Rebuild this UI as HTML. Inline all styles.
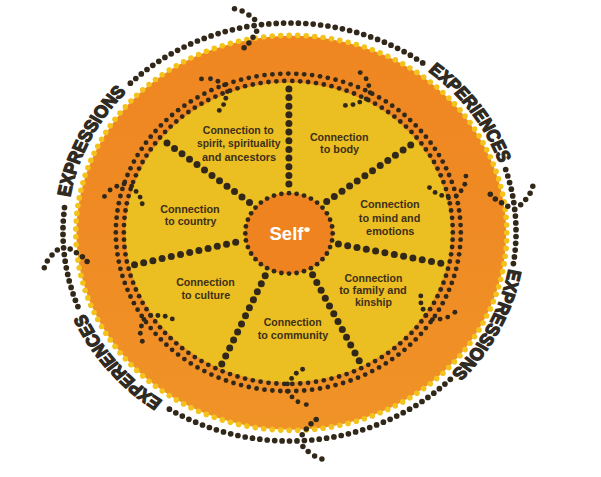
<!DOCTYPE html>
<html><head><meta charset="utf-8"><style>
html,body{margin:0;padding:0;background:#fff;width:601px;height:477px;overflow:hidden}
svg{display:block}
</style></head><body>
<svg width="601" height="477" viewBox="0 0 601 477">
<rect width="601" height="477" fill="#fff"/>
<defs><linearGradient id="og" x1="0" y1="0" x2="0" y2="1"><stop offset="0" stop-color="#ef8621"/><stop offset="0.5" stop-color="#ef8b24"/><stop offset="1" stop-color="#f09327"/></linearGradient></defs>
<ellipse cx="291.3" cy="232.85" rx="214.9" ry="197.0" fill="url(#og)"/>
<circle cx="506.8" cy="232.8" r="2.8" fill="#f3c31c"/>
<circle cx="506.6" cy="240.7" r="2.8" fill="#f3c31c"/>
<circle cx="506.1" cy="248.4" r="2.8" fill="#f3c31c"/>
<circle cx="505.3" cy="256.2" r="2.8" fill="#f3c31c"/>
<circle cx="504.1" cy="263.9" r="2.8" fill="#f3c31c"/>
<circle cx="502.6" cy="271.6" r="2.8" fill="#f3c31c"/>
<circle cx="500.7" cy="279.2" r="2.8" fill="#f3c31c"/>
<circle cx="498.6" cy="286.8" r="2.8" fill="#f3c31c"/>
<circle cx="496.1" cy="294.3" r="2.8" fill="#f3c31c"/>
<circle cx="493.3" cy="301.6" r="2.8" fill="#f3c31c"/>
<circle cx="490.2" cy="308.9" r="2.8" fill="#f3c31c"/>
<circle cx="486.7" cy="316.0" r="2.8" fill="#f3c31c"/>
<circle cx="483.0" cy="323.0" r="2.8" fill="#f3c31c"/>
<circle cx="479.0" cy="329.9" r="2.8" fill="#f3c31c"/>
<circle cx="474.6" cy="336.6" r="2.8" fill="#f3c31c"/>
<circle cx="470.0" cy="343.2" r="2.8" fill="#f3c31c"/>
<circle cx="465.1" cy="349.6" r="2.8" fill="#f3c31c"/>
<circle cx="460.0" cy="355.8" r="2.8" fill="#f3c31c"/>
<circle cx="454.5" cy="361.8" r="2.8" fill="#f3c31c"/>
<circle cx="448.8" cy="367.6" r="2.8" fill="#f3c31c"/>
<circle cx="442.9" cy="373.2" r="2.8" fill="#f3c31c"/>
<circle cx="436.7" cy="378.6" r="2.8" fill="#f3c31c"/>
<circle cx="430.3" cy="383.7" r="2.8" fill="#f3c31c"/>
<circle cx="423.7" cy="388.6" r="2.8" fill="#f3c31c"/>
<circle cx="416.9" cy="393.3" r="2.8" fill="#f3c31c"/>
<circle cx="409.9" cy="397.7" r="2.8" fill="#f3c31c"/>
<circle cx="402.7" cy="401.9" r="2.8" fill="#f3c31c"/>
<circle cx="395.3" cy="405.8" r="2.8" fill="#f3c31c"/>
<circle cx="387.8" cy="409.4" r="2.8" fill="#f3c31c"/>
<circle cx="380.1" cy="412.8" r="2.8" fill="#f3c31c"/>
<circle cx="372.3" cy="415.9" r="2.8" fill="#f3c31c"/>
<circle cx="364.3" cy="418.7" r="2.8" fill="#f3c31c"/>
<circle cx="356.3" cy="421.2" r="2.8" fill="#f3c31c"/>
<circle cx="348.1" cy="423.4" r="2.8" fill="#f3c31c"/>
<circle cx="339.8" cy="425.3" r="2.8" fill="#f3c31c"/>
<circle cx="331.5" cy="426.9" r="2.8" fill="#f3c31c"/>
<circle cx="323.1" cy="428.2" r="2.8" fill="#f3c31c"/>
<circle cx="314.7" cy="429.2" r="2.8" fill="#f3c31c"/>
<circle cx="306.2" cy="429.9" r="2.8" fill="#f3c31c"/>
<circle cx="297.7" cy="430.3" r="2.8" fill="#f3c31c"/>
<circle cx="289.2" cy="430.3" r="2.8" fill="#f3c31c"/>
<circle cx="280.7" cy="430.1" r="2.8" fill="#f3c31c"/>
<circle cx="272.2" cy="429.6" r="2.8" fill="#f3c31c"/>
<circle cx="263.7" cy="428.7" r="2.8" fill="#f3c31c"/>
<circle cx="255.3" cy="427.6" r="2.8" fill="#f3c31c"/>
<circle cx="246.9" cy="426.1" r="2.8" fill="#f3c31c"/>
<circle cx="238.6" cy="424.4" r="2.8" fill="#f3c31c"/>
<circle cx="230.4" cy="422.3" r="2.8" fill="#f3c31c"/>
<circle cx="222.3" cy="419.9" r="2.8" fill="#f3c31c"/>
<circle cx="214.3" cy="417.3" r="2.8" fill="#f3c31c"/>
<circle cx="206.4" cy="414.4" r="2.8" fill="#f3c31c"/>
<circle cx="198.6" cy="411.2" r="2.8" fill="#f3c31c"/>
<circle cx="191.0" cy="407.7" r="2.8" fill="#f3c31c"/>
<circle cx="183.6" cy="403.9" r="2.8" fill="#f3c31c"/>
<circle cx="176.3" cy="399.9" r="2.8" fill="#f3c31c"/>
<circle cx="169.2" cy="395.6" r="2.8" fill="#f3c31c"/>
<circle cx="162.2" cy="391.0" r="2.8" fill="#f3c31c"/>
<circle cx="155.5" cy="386.2" r="2.8" fill="#f3c31c"/>
<circle cx="149.0" cy="381.2" r="2.8" fill="#f3c31c"/>
<circle cx="142.7" cy="375.9" r="2.8" fill="#f3c31c"/>
<circle cx="136.7" cy="370.4" r="2.8" fill="#f3c31c"/>
<circle cx="130.9" cy="364.7" r="2.8" fill="#f3c31c"/>
<circle cx="125.3" cy="358.8" r="2.8" fill="#f3c31c"/>
<circle cx="120.0" cy="352.7" r="2.8" fill="#f3c31c"/>
<circle cx="115.0" cy="346.4" r="2.8" fill="#f3c31c"/>
<circle cx="110.2" cy="339.9" r="2.8" fill="#f3c31c"/>
<circle cx="105.8" cy="333.3" r="2.8" fill="#f3c31c"/>
<circle cx="101.6" cy="326.5" r="2.8" fill="#f3c31c"/>
<circle cx="97.7" cy="319.5" r="2.8" fill="#f3c31c"/>
<circle cx="94.1" cy="312.5" r="2.8" fill="#f3c31c"/>
<circle cx="90.8" cy="305.3" r="2.8" fill="#f3c31c"/>
<circle cx="87.9" cy="297.9" r="2.8" fill="#f3c31c"/>
<circle cx="85.2" cy="290.5" r="2.8" fill="#f3c31c"/>
<circle cx="82.9" cy="283.0" r="2.8" fill="#f3c31c"/>
<circle cx="80.9" cy="275.4" r="2.8" fill="#f3c31c"/>
<circle cx="79.2" cy="267.8" r="2.8" fill="#f3c31c"/>
<circle cx="77.9" cy="260.1" r="2.8" fill="#f3c31c"/>
<circle cx="76.9" cy="252.3" r="2.8" fill="#f3c31c"/>
<circle cx="76.2" cy="244.6" r="2.8" fill="#f3c31c"/>
<circle cx="75.9" cy="236.8" r="2.8" fill="#f3c31c"/>
<circle cx="75.9" cy="228.9" r="2.8" fill="#f3c31c"/>
<circle cx="76.2" cy="221.1" r="2.8" fill="#f3c31c"/>
<circle cx="76.9" cy="213.4" r="2.8" fill="#f3c31c"/>
<circle cx="77.9" cy="205.6" r="2.8" fill="#f3c31c"/>
<circle cx="79.2" cy="197.9" r="2.8" fill="#f3c31c"/>
<circle cx="80.9" cy="190.3" r="2.8" fill="#f3c31c"/>
<circle cx="82.9" cy="182.7" r="2.8" fill="#f3c31c"/>
<circle cx="85.2" cy="175.2" r="2.8" fill="#f3c31c"/>
<circle cx="87.9" cy="167.8" r="2.8" fill="#f3c31c"/>
<circle cx="90.8" cy="160.4" r="2.8" fill="#f3c31c"/>
<circle cx="94.1" cy="153.2" r="2.8" fill="#f3c31c"/>
<circle cx="97.7" cy="146.2" r="2.8" fill="#f3c31c"/>
<circle cx="101.6" cy="139.2" r="2.8" fill="#f3c31c"/>
<circle cx="105.8" cy="132.4" r="2.8" fill="#f3c31c"/>
<circle cx="110.2" cy="125.8" r="2.8" fill="#f3c31c"/>
<circle cx="115.0" cy="119.3" r="2.8" fill="#f3c31c"/>
<circle cx="120.0" cy="113.0" r="2.8" fill="#f3c31c"/>
<circle cx="125.3" cy="106.9" r="2.8" fill="#f3c31c"/>
<circle cx="130.9" cy="101.0" r="2.8" fill="#f3c31c"/>
<circle cx="136.7" cy="95.3" r="2.8" fill="#f3c31c"/>
<circle cx="142.7" cy="89.8" r="2.8" fill="#f3c31c"/>
<circle cx="149.0" cy="84.5" r="2.8" fill="#f3c31c"/>
<circle cx="155.5" cy="79.5" r="2.8" fill="#f3c31c"/>
<circle cx="162.2" cy="74.7" r="2.8" fill="#f3c31c"/>
<circle cx="169.2" cy="70.1" r="2.8" fill="#f3c31c"/>
<circle cx="176.3" cy="65.8" r="2.8" fill="#f3c31c"/>
<circle cx="183.6" cy="61.8" r="2.8" fill="#f3c31c"/>
<circle cx="191.0" cy="58.0" r="2.8" fill="#f3c31c"/>
<circle cx="198.6" cy="54.5" r="2.8" fill="#f3c31c"/>
<circle cx="206.4" cy="51.3" r="2.8" fill="#f3c31c"/>
<circle cx="214.3" cy="48.4" r="2.8" fill="#f3c31c"/>
<circle cx="222.3" cy="45.8" r="2.8" fill="#f3c31c"/>
<circle cx="230.4" cy="43.4" r="2.8" fill="#f3c31c"/>
<circle cx="238.6" cy="41.3" r="2.8" fill="#f3c31c"/>
<circle cx="246.9" cy="39.6" r="2.8" fill="#f3c31c"/>
<circle cx="255.3" cy="38.1" r="2.8" fill="#f3c31c"/>
<circle cx="263.7" cy="37.0" r="2.8" fill="#f3c31c"/>
<circle cx="272.2" cy="36.1" r="2.8" fill="#f3c31c"/>
<circle cx="280.7" cy="35.6" r="2.8" fill="#f3c31c"/>
<circle cx="289.2" cy="35.4" r="2.8" fill="#f3c31c"/>
<circle cx="297.7" cy="35.4" r="2.8" fill="#f3c31c"/>
<circle cx="306.2" cy="35.8" r="2.8" fill="#f3c31c"/>
<circle cx="314.7" cy="36.5" r="2.8" fill="#f3c31c"/>
<circle cx="323.1" cy="37.5" r="2.8" fill="#f3c31c"/>
<circle cx="331.5" cy="38.8" r="2.8" fill="#f3c31c"/>
<circle cx="339.8" cy="40.4" r="2.8" fill="#f3c31c"/>
<circle cx="348.1" cy="42.3" r="2.8" fill="#f3c31c"/>
<circle cx="356.3" cy="44.5" r="2.8" fill="#f3c31c"/>
<circle cx="364.3" cy="47.0" r="2.8" fill="#f3c31c"/>
<circle cx="372.3" cy="49.8" r="2.8" fill="#f3c31c"/>
<circle cx="380.1" cy="52.9" r="2.8" fill="#f3c31c"/>
<circle cx="387.8" cy="56.3" r="2.8" fill="#f3c31c"/>
<circle cx="395.3" cy="59.9" r="2.8" fill="#f3c31c"/>
<circle cx="402.7" cy="63.8" r="2.8" fill="#f3c31c"/>
<circle cx="409.9" cy="68.0" r="2.8" fill="#f3c31c"/>
<circle cx="416.9" cy="72.4" r="2.8" fill="#f3c31c"/>
<circle cx="423.7" cy="77.1" r="2.8" fill="#f3c31c"/>
<circle cx="430.3" cy="82.0" r="2.8" fill="#f3c31c"/>
<circle cx="436.7" cy="87.1" r="2.8" fill="#f3c31c"/>
<circle cx="442.9" cy="92.5" r="2.8" fill="#f3c31c"/>
<circle cx="448.8" cy="98.1" r="2.8" fill="#f3c31c"/>
<circle cx="454.5" cy="103.9" r="2.8" fill="#f3c31c"/>
<circle cx="460.0" cy="109.9" r="2.8" fill="#f3c31c"/>
<circle cx="465.1" cy="116.1" r="2.8" fill="#f3c31c"/>
<circle cx="470.0" cy="122.5" r="2.8" fill="#f3c31c"/>
<circle cx="474.6" cy="129.1" r="2.8" fill="#f3c31c"/>
<circle cx="479.0" cy="135.8" r="2.8" fill="#f3c31c"/>
<circle cx="483.0" cy="142.7" r="2.8" fill="#f3c31c"/>
<circle cx="486.7" cy="149.7" r="2.8" fill="#f3c31c"/>
<circle cx="490.2" cy="156.8" r="2.8" fill="#f3c31c"/>
<circle cx="493.3" cy="164.1" r="2.8" fill="#f3c31c"/>
<circle cx="496.1" cy="171.4" r="2.8" fill="#f3c31c"/>
<circle cx="498.6" cy="178.9" r="2.8" fill="#f3c31c"/>
<circle cx="500.7" cy="186.5" r="2.8" fill="#f3c31c"/>
<circle cx="502.6" cy="194.1" r="2.8" fill="#f3c31c"/>
<circle cx="504.1" cy="201.8" r="2.8" fill="#f3c31c"/>
<circle cx="505.3" cy="209.5" r="2.8" fill="#f3c31c"/>
<circle cx="506.1" cy="217.3" r="2.8" fill="#f3c31c"/>
<circle cx="506.6" cy="225.0" r="2.8" fill="#f3c31c"/>
<ellipse cx="288.3" cy="232.4" rx="162.7" ry="149.8" fill="#ebbe22"/>
<circle cx="460.8" cy="232.4" r="2.4" fill="#31281a"/>
<circle cx="460.6" cy="239.7" r="2.4" fill="#31281a"/>
<circle cx="460.0" cy="247.1" r="2.4" fill="#31281a"/>
<circle cx="459.1" cy="254.3" r="2.4" fill="#31281a"/>
<circle cx="457.8" cy="261.6" r="2.4" fill="#31281a"/>
<circle cx="456.2" cy="268.8" r="2.4" fill="#31281a"/>
<circle cx="454.2" cy="275.9" r="2.4" fill="#31281a"/>
<circle cx="451.8" cy="282.9" r="2.4" fill="#31281a"/>
<circle cx="449.1" cy="289.8" r="2.4" fill="#31281a"/>
<circle cx="446.1" cy="296.5" r="2.4" fill="#31281a"/>
<circle cx="442.7" cy="303.2" r="2.4" fill="#31281a"/>
<circle cx="439.0" cy="309.7" r="2.4" fill="#31281a"/>
<circle cx="434.9" cy="316.0" r="2.4" fill="#31281a"/>
<circle cx="430.6" cy="322.1" r="2.4" fill="#31281a"/>
<circle cx="425.9" cy="328.1" r="2.4" fill="#31281a"/>
<circle cx="421.0" cy="333.8" r="2.4" fill="#31281a"/>
<circle cx="415.7" cy="339.4" r="2.4" fill="#31281a"/>
<circle cx="410.2" cy="344.7" r="2.4" fill="#31281a"/>
<circle cx="404.5" cy="349.8" r="2.4" fill="#31281a"/>
<circle cx="398.5" cy="354.6" r="2.4" fill="#31281a"/>
<circle cx="392.2" cy="359.1" r="2.4" fill="#31281a"/>
<circle cx="385.8" cy="363.4" r="2.4" fill="#31281a"/>
<circle cx="379.1" cy="367.4" r="2.4" fill="#31281a"/>
<circle cx="372.2" cy="371.1" r="2.4" fill="#31281a"/>
<circle cx="365.2" cy="374.6" r="2.4" fill="#31281a"/>
<circle cx="358.0" cy="377.7" r="2.4" fill="#31281a"/>
<circle cx="350.6" cy="380.5" r="2.4" fill="#31281a"/>
<circle cx="343.1" cy="383.0" r="2.4" fill="#31281a"/>
<circle cx="335.5" cy="385.1" r="2.4" fill="#31281a"/>
<circle cx="327.8" cy="387.0" r="2.4" fill="#31281a"/>
<circle cx="320.0" cy="388.5" r="2.4" fill="#31281a"/>
<circle cx="312.1" cy="389.7" r="2.4" fill="#31281a"/>
<circle cx="304.2" cy="390.5" r="2.4" fill="#31281a"/>
<circle cx="296.3" cy="391.0" r="2.4" fill="#31281a"/>
<circle cx="288.3" cy="391.2" r="2.4" fill="#31281a"/>
<circle cx="280.3" cy="391.0" r="2.4" fill="#31281a"/>
<circle cx="272.4" cy="390.5" r="2.4" fill="#31281a"/>
<circle cx="264.5" cy="389.7" r="2.4" fill="#31281a"/>
<circle cx="256.6" cy="388.5" r="2.4" fill="#31281a"/>
<circle cx="248.8" cy="387.0" r="2.4" fill="#31281a"/>
<circle cx="241.1" cy="385.1" r="2.4" fill="#31281a"/>
<circle cx="233.5" cy="383.0" r="2.4" fill="#31281a"/>
<circle cx="226.0" cy="380.5" r="2.4" fill="#31281a"/>
<circle cx="218.6" cy="377.7" r="2.4" fill="#31281a"/>
<circle cx="211.4" cy="374.6" r="2.4" fill="#31281a"/>
<circle cx="204.4" cy="371.1" r="2.4" fill="#31281a"/>
<circle cx="197.5" cy="367.4" r="2.4" fill="#31281a"/>
<circle cx="190.8" cy="363.4" r="2.4" fill="#31281a"/>
<circle cx="184.4" cy="359.1" r="2.4" fill="#31281a"/>
<circle cx="178.1" cy="354.6" r="2.4" fill="#31281a"/>
<circle cx="172.1" cy="349.8" r="2.4" fill="#31281a"/>
<circle cx="166.4" cy="344.7" r="2.4" fill="#31281a"/>
<circle cx="160.9" cy="339.4" r="2.4" fill="#31281a"/>
<circle cx="155.6" cy="333.8" r="2.4" fill="#31281a"/>
<circle cx="150.7" cy="328.1" r="2.4" fill="#31281a"/>
<circle cx="146.0" cy="322.1" r="2.4" fill="#31281a"/>
<circle cx="141.7" cy="316.0" r="2.4" fill="#31281a"/>
<circle cx="137.6" cy="309.7" r="2.4" fill="#31281a"/>
<circle cx="133.9" cy="303.2" r="2.4" fill="#31281a"/>
<circle cx="130.5" cy="296.5" r="2.4" fill="#31281a"/>
<circle cx="127.5" cy="289.8" r="2.4" fill="#31281a"/>
<circle cx="124.8" cy="282.9" r="2.4" fill="#31281a"/>
<circle cx="122.4" cy="275.9" r="2.4" fill="#31281a"/>
<circle cx="120.4" cy="268.8" r="2.4" fill="#31281a"/>
<circle cx="118.8" cy="261.6" r="2.4" fill="#31281a"/>
<circle cx="117.5" cy="254.3" r="2.4" fill="#31281a"/>
<circle cx="116.6" cy="247.1" r="2.4" fill="#31281a"/>
<circle cx="116.0" cy="239.7" r="2.4" fill="#31281a"/>
<circle cx="115.8" cy="232.4" r="2.4" fill="#31281a"/>
<circle cx="116.0" cy="225.1" r="2.4" fill="#31281a"/>
<circle cx="116.6" cy="217.7" r="2.4" fill="#31281a"/>
<circle cx="117.5" cy="210.5" r="2.4" fill="#31281a"/>
<circle cx="118.8" cy="203.2" r="2.4" fill="#31281a"/>
<circle cx="120.4" cy="196.0" r="2.4" fill="#31281a"/>
<circle cx="122.4" cy="188.9" r="2.4" fill="#31281a"/>
<circle cx="124.8" cy="181.9" r="2.4" fill="#31281a"/>
<circle cx="127.5" cy="175.0" r="2.4" fill="#31281a"/>
<circle cx="130.5" cy="168.3" r="2.4" fill="#31281a"/>
<circle cx="133.9" cy="161.6" r="2.4" fill="#31281a"/>
<circle cx="137.6" cy="155.1" r="2.4" fill="#31281a"/>
<circle cx="141.7" cy="148.8" r="2.4" fill="#31281a"/>
<circle cx="146.0" cy="142.7" r="2.4" fill="#31281a"/>
<circle cx="150.7" cy="136.7" r="2.4" fill="#31281a"/>
<circle cx="155.6" cy="131.0" r="2.4" fill="#31281a"/>
<circle cx="160.9" cy="125.4" r="2.4" fill="#31281a"/>
<circle cx="166.4" cy="120.1" r="2.4" fill="#31281a"/>
<circle cx="172.1" cy="115.0" r="2.4" fill="#31281a"/>
<circle cx="178.1" cy="110.2" r="2.4" fill="#31281a"/>
<circle cx="184.4" cy="105.7" r="2.4" fill="#31281a"/>
<circle cx="190.8" cy="101.4" r="2.4" fill="#31281a"/>
<circle cx="197.5" cy="97.4" r="2.4" fill="#31281a"/>
<circle cx="204.4" cy="93.7" r="2.4" fill="#31281a"/>
<circle cx="211.4" cy="90.2" r="2.4" fill="#31281a"/>
<circle cx="218.6" cy="87.1" r="2.4" fill="#31281a"/>
<circle cx="226.0" cy="84.3" r="2.4" fill="#31281a"/>
<circle cx="233.5" cy="81.8" r="2.4" fill="#31281a"/>
<circle cx="241.1" cy="79.7" r="2.4" fill="#31281a"/>
<circle cx="248.8" cy="77.8" r="2.4" fill="#31281a"/>
<circle cx="256.6" cy="76.3" r="2.4" fill="#31281a"/>
<circle cx="264.5" cy="75.1" r="2.4" fill="#31281a"/>
<circle cx="272.4" cy="74.3" r="2.4" fill="#31281a"/>
<circle cx="280.3" cy="73.8" r="2.4" fill="#31281a"/>
<circle cx="288.3" cy="73.6" r="2.4" fill="#31281a"/>
<circle cx="296.3" cy="73.8" r="2.4" fill="#31281a"/>
<circle cx="304.2" cy="74.3" r="2.4" fill="#31281a"/>
<circle cx="312.1" cy="75.1" r="2.4" fill="#31281a"/>
<circle cx="320.0" cy="76.3" r="2.4" fill="#31281a"/>
<circle cx="327.8" cy="77.8" r="2.4" fill="#31281a"/>
<circle cx="335.5" cy="79.7" r="2.4" fill="#31281a"/>
<circle cx="343.1" cy="81.8" r="2.4" fill="#31281a"/>
<circle cx="350.6" cy="84.3" r="2.4" fill="#31281a"/>
<circle cx="358.0" cy="87.1" r="2.4" fill="#31281a"/>
<circle cx="365.2" cy="90.2" r="2.4" fill="#31281a"/>
<circle cx="372.2" cy="93.7" r="2.4" fill="#31281a"/>
<circle cx="379.1" cy="97.4" r="2.4" fill="#31281a"/>
<circle cx="385.8" cy="101.4" r="2.4" fill="#31281a"/>
<circle cx="392.2" cy="105.7" r="2.4" fill="#31281a"/>
<circle cx="398.5" cy="110.2" r="2.4" fill="#31281a"/>
<circle cx="404.5" cy="115.0" r="2.4" fill="#31281a"/>
<circle cx="410.2" cy="120.1" r="2.4" fill="#31281a"/>
<circle cx="415.7" cy="125.4" r="2.4" fill="#31281a"/>
<circle cx="421.0" cy="131.0" r="2.4" fill="#31281a"/>
<circle cx="425.9" cy="136.7" r="2.4" fill="#31281a"/>
<circle cx="430.6" cy="142.7" r="2.4" fill="#31281a"/>
<circle cx="434.9" cy="148.8" r="2.4" fill="#31281a"/>
<circle cx="439.0" cy="155.1" r="2.4" fill="#31281a"/>
<circle cx="442.7" cy="161.6" r="2.4" fill="#31281a"/>
<circle cx="446.1" cy="168.3" r="2.4" fill="#31281a"/>
<circle cx="449.1" cy="175.0" r="2.4" fill="#31281a"/>
<circle cx="451.8" cy="181.9" r="2.4" fill="#31281a"/>
<circle cx="454.2" cy="188.9" r="2.4" fill="#31281a"/>
<circle cx="456.2" cy="196.0" r="2.4" fill="#31281a"/>
<circle cx="457.8" cy="203.2" r="2.4" fill="#31281a"/>
<circle cx="459.1" cy="210.5" r="2.4" fill="#31281a"/>
<circle cx="460.0" cy="217.7" r="2.4" fill="#31281a"/>
<circle cx="460.6" cy="225.1" r="2.4" fill="#31281a"/>
<circle cx="452.8" cy="232.4" r="2.4" fill="#31281a"/>
<circle cx="452.6" cy="239.7" r="2.4" fill="#31281a"/>
<circle cx="452.1" cy="247.0" r="2.4" fill="#31281a"/>
<circle cx="451.1" cy="254.3" r="2.4" fill="#31281a"/>
<circle cx="449.8" cy="261.5" r="2.4" fill="#31281a"/>
<circle cx="448.0" cy="268.7" r="2.4" fill="#31281a"/>
<circle cx="446.0" cy="275.7" r="2.4" fill="#31281a"/>
<circle cx="443.5" cy="282.7" r="2.4" fill="#31281a"/>
<circle cx="440.7" cy="289.5" r="2.4" fill="#31281a"/>
<circle cx="437.5" cy="296.2" r="2.4" fill="#31281a"/>
<circle cx="434.0" cy="302.8" r="2.4" fill="#31281a"/>
<circle cx="430.1" cy="309.2" r="2.4" fill="#31281a"/>
<circle cx="425.9" cy="315.4" r="2.4" fill="#31281a"/>
<circle cx="421.4" cy="321.4" r="2.4" fill="#31281a"/>
<circle cx="416.6" cy="327.3" r="2.4" fill="#31281a"/>
<circle cx="411.5" cy="332.9" r="2.4" fill="#31281a"/>
<circle cx="406.0" cy="338.2" r="2.4" fill="#31281a"/>
<circle cx="400.3" cy="343.3" r="2.4" fill="#31281a"/>
<circle cx="394.4" cy="348.2" r="2.4" fill="#31281a"/>
<circle cx="388.2" cy="352.8" r="2.4" fill="#31281a"/>
<circle cx="381.8" cy="357.1" r="2.4" fill="#31281a"/>
<circle cx="375.1" cy="361.1" r="2.4" fill="#31281a"/>
<circle cx="368.3" cy="364.8" r="2.4" fill="#31281a"/>
<circle cx="361.2" cy="368.2" r="2.4" fill="#31281a"/>
<circle cx="354.0" cy="371.3" r="2.4" fill="#31281a"/>
<circle cx="346.6" cy="374.1" r="2.4" fill="#31281a"/>
<circle cx="339.1" cy="376.5" r="2.4" fill="#31281a"/>
<circle cx="331.5" cy="378.6" r="2.4" fill="#31281a"/>
<circle cx="323.8" cy="380.3" r="2.4" fill="#31281a"/>
<circle cx="316.0" cy="381.7" r="2.4" fill="#31281a"/>
<circle cx="308.1" cy="382.8" r="2.4" fill="#31281a"/>
<circle cx="300.2" cy="383.5" r="2.4" fill="#31281a"/>
<circle cx="292.3" cy="383.9" r="2.4" fill="#31281a"/>
<circle cx="284.3" cy="383.9" r="2.4" fill="#31281a"/>
<circle cx="276.4" cy="383.5" r="2.4" fill="#31281a"/>
<circle cx="268.5" cy="382.8" r="2.4" fill="#31281a"/>
<circle cx="260.6" cy="381.7" r="2.4" fill="#31281a"/>
<circle cx="252.8" cy="380.3" r="2.4" fill="#31281a"/>
<circle cx="245.1" cy="378.6" r="2.4" fill="#31281a"/>
<circle cx="237.5" cy="376.5" r="2.4" fill="#31281a"/>
<circle cx="230.0" cy="374.1" r="2.4" fill="#31281a"/>
<circle cx="222.6" cy="371.3" r="2.4" fill="#31281a"/>
<circle cx="215.4" cy="368.2" r="2.4" fill="#31281a"/>
<circle cx="208.3" cy="364.8" r="2.4" fill="#31281a"/>
<circle cx="201.5" cy="361.1" r="2.4" fill="#31281a"/>
<circle cx="194.8" cy="357.1" r="2.4" fill="#31281a"/>
<circle cx="188.4" cy="352.8" r="2.4" fill="#31281a"/>
<circle cx="182.2" cy="348.2" r="2.4" fill="#31281a"/>
<circle cx="176.3" cy="343.3" r="2.4" fill="#31281a"/>
<circle cx="170.6" cy="338.2" r="2.4" fill="#31281a"/>
<circle cx="165.1" cy="332.9" r="2.4" fill="#31281a"/>
<circle cx="160.0" cy="327.3" r="2.4" fill="#31281a"/>
<circle cx="155.2" cy="321.4" r="2.4" fill="#31281a"/>
<circle cx="150.7" cy="315.4" r="2.4" fill="#31281a"/>
<circle cx="146.5" cy="309.2" r="2.4" fill="#31281a"/>
<circle cx="142.6" cy="302.8" r="2.4" fill="#31281a"/>
<circle cx="139.1" cy="296.2" r="2.4" fill="#31281a"/>
<circle cx="135.9" cy="289.5" r="2.4" fill="#31281a"/>
<circle cx="133.1" cy="282.7" r="2.4" fill="#31281a"/>
<circle cx="130.6" cy="275.7" r="2.4" fill="#31281a"/>
<circle cx="128.6" cy="268.7" r="2.4" fill="#31281a"/>
<circle cx="126.8" cy="261.5" r="2.4" fill="#31281a"/>
<circle cx="125.5" cy="254.3" r="2.4" fill="#31281a"/>
<circle cx="124.5" cy="247.0" r="2.4" fill="#31281a"/>
<circle cx="124.0" cy="239.7" r="2.4" fill="#31281a"/>
<circle cx="123.8" cy="232.4" r="2.4" fill="#31281a"/>
<circle cx="124.0" cy="225.1" r="2.4" fill="#31281a"/>
<circle cx="124.5" cy="217.8" r="2.4" fill="#31281a"/>
<circle cx="125.5" cy="210.5" r="2.4" fill="#31281a"/>
<circle cx="126.8" cy="203.3" r="2.4" fill="#31281a"/>
<circle cx="128.6" cy="196.1" r="2.4" fill="#31281a"/>
<circle cx="130.6" cy="189.1" r="2.4" fill="#31281a"/>
<circle cx="133.1" cy="182.1" r="2.4" fill="#31281a"/>
<circle cx="135.9" cy="175.3" r="2.4" fill="#31281a"/>
<circle cx="139.1" cy="168.6" r="2.4" fill="#31281a"/>
<circle cx="142.6" cy="162.0" r="2.4" fill="#31281a"/>
<circle cx="146.5" cy="155.6" r="2.4" fill="#31281a"/>
<circle cx="150.7" cy="149.4" r="2.4" fill="#31281a"/>
<circle cx="155.2" cy="143.4" r="2.4" fill="#31281a"/>
<circle cx="160.0" cy="137.5" r="2.4" fill="#31281a"/>
<circle cx="165.1" cy="131.9" r="2.4" fill="#31281a"/>
<circle cx="170.6" cy="126.6" r="2.4" fill="#31281a"/>
<circle cx="176.3" cy="121.5" r="2.4" fill="#31281a"/>
<circle cx="182.2" cy="116.6" r="2.4" fill="#31281a"/>
<circle cx="188.4" cy="112.0" r="2.4" fill="#31281a"/>
<circle cx="194.8" cy="107.7" r="2.4" fill="#31281a"/>
<circle cx="201.5" cy="103.7" r="2.4" fill="#31281a"/>
<circle cx="208.3" cy="100.0" r="2.4" fill="#31281a"/>
<circle cx="215.4" cy="96.6" r="2.4" fill="#31281a"/>
<circle cx="222.6" cy="93.5" r="2.4" fill="#31281a"/>
<circle cx="230.0" cy="90.7" r="2.4" fill="#31281a"/>
<circle cx="237.5" cy="88.3" r="2.4" fill="#31281a"/>
<circle cx="245.1" cy="86.2" r="2.4" fill="#31281a"/>
<circle cx="252.8" cy="84.5" r="2.4" fill="#31281a"/>
<circle cx="260.6" cy="83.1" r="2.4" fill="#31281a"/>
<circle cx="268.5" cy="82.0" r="2.4" fill="#31281a"/>
<circle cx="276.4" cy="81.3" r="2.4" fill="#31281a"/>
<circle cx="284.3" cy="80.9" r="2.4" fill="#31281a"/>
<circle cx="292.3" cy="80.9" r="2.4" fill="#31281a"/>
<circle cx="300.2" cy="81.3" r="2.4" fill="#31281a"/>
<circle cx="308.1" cy="82.0" r="2.4" fill="#31281a"/>
<circle cx="316.0" cy="83.1" r="2.4" fill="#31281a"/>
<circle cx="323.8" cy="84.5" r="2.4" fill="#31281a"/>
<circle cx="331.5" cy="86.2" r="2.4" fill="#31281a"/>
<circle cx="339.1" cy="88.3" r="2.4" fill="#31281a"/>
<circle cx="346.6" cy="90.7" r="2.4" fill="#31281a"/>
<circle cx="354.0" cy="93.5" r="2.4" fill="#31281a"/>
<circle cx="361.2" cy="96.6" r="2.4" fill="#31281a"/>
<circle cx="368.3" cy="100.0" r="2.4" fill="#31281a"/>
<circle cx="375.1" cy="103.7" r="2.4" fill="#31281a"/>
<circle cx="381.8" cy="107.7" r="2.4" fill="#31281a"/>
<circle cx="388.2" cy="112.0" r="2.4" fill="#31281a"/>
<circle cx="394.4" cy="116.6" r="2.4" fill="#31281a"/>
<circle cx="400.3" cy="121.5" r="2.4" fill="#31281a"/>
<circle cx="406.0" cy="126.6" r="2.4" fill="#31281a"/>
<circle cx="411.5" cy="131.9" r="2.4" fill="#31281a"/>
<circle cx="416.6" cy="137.5" r="2.4" fill="#31281a"/>
<circle cx="421.4" cy="143.4" r="2.4" fill="#31281a"/>
<circle cx="425.9" cy="149.4" r="2.4" fill="#31281a"/>
<circle cx="430.1" cy="155.6" r="2.4" fill="#31281a"/>
<circle cx="434.0" cy="162.0" r="2.4" fill="#31281a"/>
<circle cx="437.5" cy="168.6" r="2.4" fill="#31281a"/>
<circle cx="440.7" cy="175.3" r="2.4" fill="#31281a"/>
<circle cx="443.5" cy="182.1" r="2.4" fill="#31281a"/>
<circle cx="446.0" cy="189.1" r="2.4" fill="#31281a"/>
<circle cx="448.0" cy="196.1" r="2.4" fill="#31281a"/>
<circle cx="449.8" cy="203.3" r="2.4" fill="#31281a"/>
<circle cx="451.1" cy="210.5" r="2.4" fill="#31281a"/>
<circle cx="452.1" cy="217.8" r="2.4" fill="#31281a"/>
<circle cx="452.6" cy="225.1" r="2.4" fill="#31281a"/>
<circle cx="288.9" cy="88.9" r="3.5" fill="#31281a"/>
<circle cx="288.9" cy="97.5" r="3.5" fill="#31281a"/>
<circle cx="288.9" cy="106.2" r="3.5" fill="#31281a"/>
<circle cx="288.9" cy="114.8" r="3.5" fill="#31281a"/>
<circle cx="288.9" cy="123.5" r="3.5" fill="#31281a"/>
<circle cx="288.9" cy="132.1" r="3.5" fill="#31281a"/>
<circle cx="288.9" cy="140.8" r="3.5" fill="#31281a"/>
<circle cx="288.9" cy="149.4" r="3.5" fill="#31281a"/>
<circle cx="288.9" cy="158.1" r="3.5" fill="#31281a"/>
<circle cx="288.9" cy="166.7" r="3.5" fill="#31281a"/>
<circle cx="288.9" cy="175.4" r="3.5" fill="#31281a"/>
<circle cx="288.9" cy="184.0" r="3.5" fill="#31281a"/>
<circle cx="410.7" cy="145.0" r="3.5" fill="#31281a"/>
<circle cx="403.1" cy="150.1" r="3.5" fill="#31281a"/>
<circle cx="395.4" cy="155.3" r="3.5" fill="#31281a"/>
<circle cx="387.8" cy="160.4" r="3.5" fill="#31281a"/>
<circle cx="380.2" cy="165.5" r="3.5" fill="#31281a"/>
<circle cx="372.5" cy="170.7" r="3.5" fill="#31281a"/>
<circle cx="364.9" cy="175.8" r="3.5" fill="#31281a"/>
<circle cx="357.2" cy="181.0" r="3.5" fill="#31281a"/>
<circle cx="349.6" cy="186.1" r="3.5" fill="#31281a"/>
<circle cx="342.0" cy="191.2" r="3.5" fill="#31281a"/>
<circle cx="334.3" cy="196.4" r="3.5" fill="#31281a"/>
<circle cx="326.7" cy="201.5" r="3.5" fill="#31281a"/>
<circle cx="440.8" cy="263.2" r="3.5" fill="#31281a"/>
<circle cx="431.5" cy="261.4" r="3.5" fill="#31281a"/>
<circle cx="422.2" cy="259.7" r="3.5" fill="#31281a"/>
<circle cx="412.9" cy="257.9" r="3.5" fill="#31281a"/>
<circle cx="403.6" cy="256.2" r="3.5" fill="#31281a"/>
<circle cx="394.3" cy="254.4" r="3.5" fill="#31281a"/>
<circle cx="384.9" cy="252.7" r="3.5" fill="#31281a"/>
<circle cx="375.6" cy="250.9" r="3.5" fill="#31281a"/>
<circle cx="366.3" cy="249.2" r="3.5" fill="#31281a"/>
<circle cx="357.0" cy="247.4" r="3.5" fill="#31281a"/>
<circle cx="347.7" cy="245.7" r="3.5" fill="#31281a"/>
<circle cx="338.4" cy="243.9" r="3.5" fill="#31281a"/>
<circle cx="359.2" cy="360.7" r="3.5" fill="#31281a"/>
<circle cx="355.0" cy="352.9" r="3.5" fill="#31281a"/>
<circle cx="350.7" cy="345.1" r="3.5" fill="#31281a"/>
<circle cx="346.5" cy="337.2" r="3.5" fill="#31281a"/>
<circle cx="342.3" cy="329.4" r="3.5" fill="#31281a"/>
<circle cx="338.0" cy="321.6" r="3.5" fill="#31281a"/>
<circle cx="333.8" cy="313.8" r="3.5" fill="#31281a"/>
<circle cx="329.5" cy="306.0" r="3.5" fill="#31281a"/>
<circle cx="325.3" cy="298.2" r="3.5" fill="#31281a"/>
<circle cx="321.1" cy="290.3" r="3.5" fill="#31281a"/>
<circle cx="316.8" cy="282.5" r="3.5" fill="#31281a"/>
<circle cx="312.6" cy="274.7" r="3.5" fill="#31281a"/>
<circle cx="221.8" cy="364.0" r="3.5" fill="#31281a"/>
<circle cx="225.7" cy="356.0" r="3.5" fill="#31281a"/>
<circle cx="229.7" cy="347.9" r="3.5" fill="#31281a"/>
<circle cx="233.6" cy="339.9" r="3.5" fill="#31281a"/>
<circle cx="237.6" cy="331.9" r="3.5" fill="#31281a"/>
<circle cx="241.5" cy="323.9" r="3.5" fill="#31281a"/>
<circle cx="245.5" cy="315.8" r="3.5" fill="#31281a"/>
<circle cx="249.4" cy="307.8" r="3.5" fill="#31281a"/>
<circle cx="253.4" cy="299.8" r="3.5" fill="#31281a"/>
<circle cx="257.3" cy="291.8" r="3.5" fill="#31281a"/>
<circle cx="261.3" cy="283.7" r="3.5" fill="#31281a"/>
<circle cx="265.2" cy="275.7" r="3.5" fill="#31281a"/>
<circle cx="134.5" cy="264.8" r="3.5" fill="#31281a"/>
<circle cx="143.7" cy="262.7" r="3.5" fill="#31281a"/>
<circle cx="152.9" cy="260.7" r="3.5" fill="#31281a"/>
<circle cx="162.1" cy="258.6" r="3.5" fill="#31281a"/>
<circle cx="171.3" cy="256.6" r="3.5" fill="#31281a"/>
<circle cx="180.5" cy="254.5" r="3.5" fill="#31281a"/>
<circle cx="189.7" cy="252.5" r="3.5" fill="#31281a"/>
<circle cx="198.9" cy="250.4" r="3.5" fill="#31281a"/>
<circle cx="208.1" cy="248.4" r="3.5" fill="#31281a"/>
<circle cx="217.3" cy="246.3" r="3.5" fill="#31281a"/>
<circle cx="226.5" cy="244.3" r="3.5" fill="#31281a"/>
<circle cx="235.7" cy="242.2" r="3.5" fill="#31281a"/>
<circle cx="167.0" cy="143.0" r="3.5" fill="#31281a"/>
<circle cx="174.5" cy="148.4" r="3.5" fill="#31281a"/>
<circle cx="182.0" cy="153.8" r="3.5" fill="#31281a"/>
<circle cx="189.5" cy="159.2" r="3.5" fill="#31281a"/>
<circle cx="197.0" cy="164.6" r="3.5" fill="#31281a"/>
<circle cx="204.5" cy="170.0" r="3.5" fill="#31281a"/>
<circle cx="212.0" cy="175.4" r="3.5" fill="#31281a"/>
<circle cx="219.5" cy="180.8" r="3.5" fill="#31281a"/>
<circle cx="227.0" cy="186.2" r="3.5" fill="#31281a"/>
<circle cx="234.5" cy="191.6" r="3.5" fill="#31281a"/>
<circle cx="242.0" cy="197.0" r="3.5" fill="#31281a"/>
<circle cx="249.5" cy="202.4" r="3.5" fill="#31281a"/>
<circle cx="224.5" cy="84.9" r="2.45" fill="#31281a"/>
<circle cx="227.5" cy="91.6" r="2.45" fill="#31281a"/>
<circle cx="217.9" cy="81.2" r="2.45" fill="#31281a"/>
<circle cx="225.8" cy="98.2" r="2.45" fill="#31281a"/>
<circle cx="210.5" cy="78.8" r="2.45" fill="#31281a"/>
<circle cx="223.6" cy="104.6" r="2.45" fill="#31281a"/>
<circle cx="201.5" cy="78.9" r="2.45" fill="#31281a"/>
<circle cx="219.3" cy="110.4" r="2.45" fill="#31281a"/>
<circle cx="370.1" cy="92.6" r="2.45" fill="#31281a"/>
<circle cx="366.3" cy="99.0" r="2.45" fill="#31281a"/>
<circle cx="368.8" cy="85.6" r="2.45" fill="#31281a"/>
<circle cx="359.8" cy="102.1" r="2.45" fill="#31281a"/>
<circle cx="366.1" cy="78.8" r="2.45" fill="#31281a"/>
<circle cx="353.0" cy="104.6" r="2.45" fill="#31281a"/>
<circle cx="360.2" cy="72.6" r="2.45" fill="#31281a"/>
<circle cx="345.4" cy="105.4" r="2.45" fill="#31281a"/>
<circle cx="456.2" cy="196.1" r="2.45" fill="#31281a"/>
<circle cx="448.5" cy="197.8" r="2.45" fill="#31281a"/>
<circle cx="461.1" cy="190.7" r="2.45" fill="#31281a"/>
<circle cx="441.7" cy="195.4" r="2.45" fill="#31281a"/>
<circle cx="464.8" cy="184.3" r="2.45" fill="#31281a"/>
<circle cx="435.1" cy="192.4" r="2.45" fill="#31281a"/>
<circle cx="465.9" cy="176.1" r="2.45" fill="#31281a"/>
<circle cx="429.5" cy="187.6" r="2.45" fill="#31281a"/>
<circle cx="432.4" cy="319.6" r="2.45" fill="#31281a"/>
<circle cx="425.8" cy="315.6" r="2.45" fill="#31281a"/>
<circle cx="440.1" cy="319.1" r="2.45" fill="#31281a"/>
<circle cx="423.1" cy="309.3" r="2.45" fill="#31281a"/>
<circle cx="447.7" cy="317.1" r="2.45" fill="#31281a"/>
<circle cx="420.9" cy="302.9" r="2.45" fill="#31281a"/>
<circle cx="454.9" cy="312.3" r="2.45" fill="#31281a"/>
<circle cx="420.8" cy="295.9" r="2.45" fill="#31281a"/>
<circle cx="287.4" cy="391.2" r="2.45" fill="#31281a"/>
<circle cx="287.4" cy="383.9" r="2.45" fill="#31281a"/>
<circle cx="292.0" cy="396.9" r="2.45" fill="#31281a"/>
<circle cx="291.6" cy="378.4" r="2.45" fill="#31281a"/>
<circle cx="297.9" cy="401.7" r="2.45" fill="#31281a"/>
<circle cx="296.3" cy="373.2" r="2.45" fill="#31281a"/>
<circle cx="306.3" cy="404.6" r="2.45" fill="#31281a"/>
<circle cx="302.6" cy="369.3" r="2.45" fill="#31281a"/>
<circle cx="144.0" cy="319.4" r="2.45" fill="#31281a"/>
<circle cx="150.6" cy="315.4" r="2.45" fill="#31281a"/>
<circle cx="141.4" cy="326.0" r="2.45" fill="#31281a"/>
<circle cx="157.9" cy="315.5" r="2.45" fill="#31281a"/>
<circle cx="140.3" cy="333.2" r="2.45" fill="#31281a"/>
<circle cx="165.2" cy="316.3" r="2.45" fill="#31281a"/>
<circle cx="142.3" cy="341.3" r="2.45" fill="#31281a"/>
<circle cx="172.3" cy="318.9" r="2.45" fill="#31281a"/>
<circle cx="124.1" cy="183.9" r="2.45" fill="#31281a"/>
<circle cx="131.6" cy="186.1" r="2.45" fill="#31281a"/>
<circle cx="116.8" cy="186.2" r="2.45" fill="#31281a"/>
<circle cx="136.1" cy="191.4" r="2.45" fill="#31281a"/>
<circle cx="110.1" cy="190.0" r="2.45" fill="#31281a"/>
<circle cx="140.1" cy="197.1" r="2.45" fill="#31281a"/>
<circle cx="104.5" cy="196.4" r="2.45" fill="#31281a"/>
<circle cx="142.2" cy="203.8" r="2.45" fill="#31281a"/>
<ellipse cx="289.0" cy="233.4" rx="44.2" ry="40.6" fill="#ee8320"/>
<circle cx="332.7" cy="233.4" r="2.4" fill="#31281a"/>
<circle cx="332.1" cy="240.4" r="2.4" fill="#31281a"/>
<circle cx="330.1" cy="247.1" r="2.4" fill="#31281a"/>
<circle cx="326.9" cy="253.5" r="2.4" fill="#31281a"/>
<circle cx="322.5" cy="259.2" r="2.4" fill="#31281a"/>
<circle cx="317.1" cy="264.2" r="2.4" fill="#31281a"/>
<circle cx="310.9" cy="268.2" r="2.4" fill="#31281a"/>
<circle cx="304.0" cy="271.2" r="2.4" fill="#31281a"/>
<circle cx="296.6" cy="273.0" r="2.4" fill="#31281a"/>
<circle cx="289.0" cy="273.6" r="2.4" fill="#31281a"/>
<circle cx="281.4" cy="273.0" r="2.4" fill="#31281a"/>
<circle cx="274.0" cy="271.2" r="2.4" fill="#31281a"/>
<circle cx="267.1" cy="268.2" r="2.4" fill="#31281a"/>
<circle cx="260.9" cy="264.2" r="2.4" fill="#31281a"/>
<circle cx="255.5" cy="259.2" r="2.4" fill="#31281a"/>
<circle cx="251.1" cy="253.5" r="2.4" fill="#31281a"/>
<circle cx="247.9" cy="247.1" r="2.4" fill="#31281a"/>
<circle cx="245.9" cy="240.4" r="2.4" fill="#31281a"/>
<circle cx="245.3" cy="233.4" r="2.4" fill="#31281a"/>
<circle cx="245.9" cy="226.4" r="2.4" fill="#31281a"/>
<circle cx="247.9" cy="219.7" r="2.4" fill="#31281a"/>
<circle cx="251.1" cy="213.3" r="2.4" fill="#31281a"/>
<circle cx="255.5" cy="207.6" r="2.4" fill="#31281a"/>
<circle cx="260.9" cy="202.6" r="2.4" fill="#31281a"/>
<circle cx="267.1" cy="198.6" r="2.4" fill="#31281a"/>
<circle cx="274.0" cy="195.6" r="2.4" fill="#31281a"/>
<circle cx="281.4" cy="193.8" r="2.4" fill="#31281a"/>
<circle cx="289.0" cy="193.2" r="2.4" fill="#31281a"/>
<circle cx="296.6" cy="193.8" r="2.4" fill="#31281a"/>
<circle cx="304.0" cy="195.6" r="2.4" fill="#31281a"/>
<circle cx="310.9" cy="198.6" r="2.4" fill="#31281a"/>
<circle cx="317.1" cy="202.6" r="2.4" fill="#31281a"/>
<circle cx="322.5" cy="207.6" r="2.4" fill="#31281a"/>
<circle cx="326.9" cy="213.3" r="2.4" fill="#31281a"/>
<circle cx="330.1" cy="219.7" r="2.4" fill="#31281a"/>
<circle cx="332.1" cy="226.4" r="2.4" fill="#31281a"/>
<circle cx="130.4" cy="83.2" r="2.85" fill="#31281a"/>
<circle cx="135.8" cy="78.5" r="2.85" fill="#31281a"/>
<circle cx="141.3" cy="73.9" r="2.85" fill="#31281a"/>
<circle cx="147.0" cy="69.5" r="2.85" fill="#31281a"/>
<circle cx="152.8" cy="65.3" r="2.85" fill="#31281a"/>
<circle cx="158.8" cy="61.3" r="2.85" fill="#31281a"/>
<circle cx="164.9" cy="57.4" r="2.85" fill="#31281a"/>
<circle cx="171.2" cy="53.8" r="2.85" fill="#31281a"/>
<circle cx="177.6" cy="50.3" r="2.85" fill="#31281a"/>
<circle cx="184.1" cy="47.0" r="2.85" fill="#31281a"/>
<circle cx="190.7" cy="43.9" r="2.85" fill="#31281a"/>
<circle cx="197.4" cy="41.0" r="2.85" fill="#31281a"/>
<circle cx="204.2" cy="38.4" r="2.85" fill="#31281a"/>
<circle cx="211.1" cy="35.9" r="2.85" fill="#31281a"/>
<circle cx="218.1" cy="33.6" r="2.85" fill="#31281a"/>
<circle cx="225.2" cy="31.6" r="2.85" fill="#31281a"/>
<circle cx="232.4" cy="29.8" r="2.85" fill="#31281a"/>
<circle cx="239.6" cy="28.1" r="2.85" fill="#31281a"/>
<circle cx="246.8" cy="26.7" r="2.85" fill="#31281a"/>
<circle cx="254.1" cy="25.6" r="2.85" fill="#31281a"/>
<circle cx="261.5" cy="24.6" r="2.85" fill="#31281a"/>
<circle cx="268.8" cy="23.9" r="2.85" fill="#31281a"/>
<circle cx="276.2" cy="23.4" r="2.85" fill="#31281a"/>
<circle cx="283.6" cy="23.1" r="2.85" fill="#31281a"/>
<circle cx="291.0" cy="23.0" r="2.85" fill="#31281a"/>
<circle cx="298.4" cy="23.2" r="2.85" fill="#31281a"/>
<circle cx="305.8" cy="23.5" r="2.85" fill="#31281a"/>
<circle cx="313.2" cy="24.1" r="2.85" fill="#31281a"/>
<circle cx="320.6" cy="25.0" r="2.85" fill="#31281a"/>
<circle cx="327.9" cy="26.0" r="2.85" fill="#31281a"/>
<circle cx="335.2" cy="27.3" r="2.85" fill="#31281a"/>
<circle cx="342.4" cy="28.8" r="2.85" fill="#31281a"/>
<circle cx="349.6" cy="30.5" r="2.85" fill="#31281a"/>
<circle cx="356.7" cy="32.4" r="2.85" fill="#31281a"/>
<circle cx="363.7" cy="34.5" r="2.85" fill="#31281a"/>
<circle cx="370.7" cy="36.9" r="2.85" fill="#31281a"/>
<circle cx="377.6" cy="39.4" r="2.85" fill="#31281a"/>
<circle cx="384.4" cy="42.2" r="2.85" fill="#31281a"/>
<circle cx="391.0" cy="45.2" r="2.85" fill="#31281a"/>
<circle cx="397.6" cy="48.3" r="2.85" fill="#31281a"/>
<circle cx="404.1" cy="51.7" r="2.85" fill="#31281a"/>
<circle cx="410.4" cy="55.2" r="2.85" fill="#31281a"/>
<circle cx="416.6" cy="59.0" r="2.85" fill="#31281a"/>
<circle cx="422.7" cy="62.9" r="2.85" fill="#31281a"/>
<circle cx="505.7" cy="169.5" r="2.85" fill="#31281a"/>
<circle cx="507.8" cy="176.0" r="2.85" fill="#31281a"/>
<circle cx="509.6" cy="182.6" r="2.85" fill="#31281a"/>
<circle cx="511.3" cy="189.2" r="2.85" fill="#31281a"/>
<circle cx="512.7" cy="195.9" r="2.85" fill="#31281a"/>
<circle cx="513.8" cy="202.6" r="2.85" fill="#31281a"/>
<circle cx="514.7" cy="209.4" r="2.85" fill="#31281a"/>
<circle cx="515.4" cy="216.1" r="2.85" fill="#31281a"/>
<circle cx="515.8" cy="222.9" r="2.85" fill="#31281a"/>
<circle cx="516.0" cy="229.7" r="2.85" fill="#31281a"/>
<circle cx="516.0" cy="236.5" r="2.85" fill="#31281a"/>
<circle cx="515.7" cy="243.3" r="2.85" fill="#31281a"/>
<circle cx="515.2" cy="250.1" r="2.85" fill="#31281a"/>
<circle cx="514.4" cy="256.9" r="2.85" fill="#31281a"/>
<circle cx="513.4" cy="263.6" r="2.85" fill="#31281a"/>
<circle cx="450.3" cy="379.3" r="2.85" fill="#31281a"/>
<circle cx="444.9" cy="384.1" r="2.85" fill="#31281a"/>
<circle cx="439.4" cy="388.7" r="2.85" fill="#31281a"/>
<circle cx="433.8" cy="393.2" r="2.85" fill="#31281a"/>
<circle cx="427.9" cy="397.4" r="2.85" fill="#31281a"/>
<circle cx="422.0" cy="401.5" r="2.85" fill="#31281a"/>
<circle cx="415.9" cy="405.5" r="2.85" fill="#31281a"/>
<circle cx="409.6" cy="409.2" r="2.85" fill="#31281a"/>
<circle cx="403.2" cy="412.7" r="2.85" fill="#31281a"/>
<circle cx="396.7" cy="416.1" r="2.85" fill="#31281a"/>
<circle cx="390.1" cy="419.3" r="2.85" fill="#31281a"/>
<circle cx="383.4" cy="422.2" r="2.85" fill="#31281a"/>
<circle cx="376.6" cy="424.9" r="2.85" fill="#31281a"/>
<circle cx="369.7" cy="427.5" r="2.85" fill="#31281a"/>
<circle cx="362.7" cy="429.8" r="2.85" fill="#31281a"/>
<circle cx="355.6" cy="431.9" r="2.85" fill="#31281a"/>
<circle cx="348.4" cy="433.8" r="2.85" fill="#31281a"/>
<circle cx="341.2" cy="435.5" r="2.85" fill="#31281a"/>
<circle cx="333.9" cy="436.9" r="2.85" fill="#31281a"/>
<circle cx="326.6" cy="438.2" r="2.85" fill="#31281a"/>
<circle cx="319.2" cy="439.2" r="2.85" fill="#31281a"/>
<circle cx="311.8" cy="440.0" r="2.85" fill="#31281a"/>
<circle cx="304.4" cy="440.5" r="2.85" fill="#31281a"/>
<circle cx="297.0" cy="440.9" r="2.85" fill="#31281a"/>
<circle cx="289.5" cy="441.0" r="2.85" fill="#31281a"/>
<circle cx="282.1" cy="440.9" r="2.85" fill="#31281a"/>
<circle cx="274.7" cy="440.6" r="2.85" fill="#31281a"/>
<circle cx="267.2" cy="440.0" r="2.85" fill="#31281a"/>
<circle cx="259.8" cy="439.2" r="2.85" fill="#31281a"/>
<circle cx="252.5" cy="438.2" r="2.85" fill="#31281a"/>
<circle cx="245.2" cy="437.0" r="2.85" fill="#31281a"/>
<circle cx="237.9" cy="435.5" r="2.85" fill="#31281a"/>
<circle cx="230.7" cy="433.8" r="2.85" fill="#31281a"/>
<circle cx="223.5" cy="431.9" r="2.85" fill="#31281a"/>
<circle cx="216.4" cy="429.8" r="2.85" fill="#31281a"/>
<circle cx="209.4" cy="427.5" r="2.85" fill="#31281a"/>
<circle cx="202.5" cy="425.0" r="2.85" fill="#31281a"/>
<circle cx="195.7" cy="422.2" r="2.85" fill="#31281a"/>
<circle cx="188.9" cy="419.3" r="2.85" fill="#31281a"/>
<circle cx="182.3" cy="416.1" r="2.85" fill="#31281a"/>
<circle cx="175.8" cy="412.8" r="2.85" fill="#31281a"/>
<circle cx="169.4" cy="409.2" r="2.85" fill="#31281a"/>
<circle cx="77.9" cy="306.6" r="2.85" fill="#31281a"/>
<circle cx="75.4" cy="300.3" r="2.85" fill="#31281a"/>
<circle cx="73.1" cy="293.9" r="2.85" fill="#31281a"/>
<circle cx="71.1" cy="287.4" r="2.85" fill="#31281a"/>
<circle cx="69.2" cy="280.9" r="2.85" fill="#31281a"/>
<circle cx="67.7" cy="274.4" r="2.85" fill="#31281a"/>
<circle cx="66.3" cy="267.8" r="2.85" fill="#31281a"/>
<circle cx="65.2" cy="261.2" r="2.85" fill="#31281a"/>
<circle cx="64.3" cy="254.5" r="2.85" fill="#31281a"/>
<circle cx="63.6" cy="247.8" r="2.85" fill="#31281a"/>
<circle cx="63.2" cy="241.1" r="2.85" fill="#31281a"/>
<circle cx="63.0" cy="234.4" r="2.85" fill="#31281a"/>
<circle cx="63.0" cy="227.7" r="2.85" fill="#31281a"/>
<circle cx="63.3" cy="221.0" r="2.85" fill="#31281a"/>
<circle cx="63.8" cy="214.3" r="2.85" fill="#31281a"/>
<circle cx="64.5" cy="207.6" r="2.85" fill="#31281a"/>
<circle cx="254.6" cy="19.4" r="2.75" fill="#31281a"/>
<circle cx="256.6" cy="31.3" r="2.75" fill="#31281a"/>
<circle cx="248.9" cy="14.9" r="2.75" fill="#31281a"/>
<circle cx="253.0" cy="37.2" r="2.75" fill="#31281a"/>
<circle cx="242.1" cy="11.0" r="2.75" fill="#31281a"/>
<circle cx="248.9" cy="43.0" r="2.75" fill="#31281a"/>
<circle cx="234.5" cy="8.7" r="2.75" fill="#31281a"/>
<circle cx="244.1" cy="47.7" r="2.75" fill="#31281a"/>
<circle cx="520.7" cy="204.7" r="2.75" fill="#31281a"/>
<circle cx="507.8" cy="206.2" r="2.75" fill="#31281a"/>
<circle cx="525.7" cy="199.4" r="2.75" fill="#31281a"/>
<circle cx="501.5" cy="202.8" r="2.75" fill="#31281a"/>
<circle cx="530.1" cy="193.3" r="2.75" fill="#31281a"/>
<circle cx="495.3" cy="198.9" r="2.75" fill="#31281a"/>
<circle cx="532.8" cy="186.3" r="2.75" fill="#31281a"/>
<circle cx="490.3" cy="194.3" r="2.75" fill="#31281a"/>
<circle cx="302.9" cy="446.6" r="2.75" fill="#31281a"/>
<circle cx="302.2" cy="434.7" r="2.75" fill="#31281a"/>
<circle cx="308.2" cy="451.6" r="2.75" fill="#31281a"/>
<circle cx="306.3" cy="429.1" r="2.75" fill="#31281a"/>
<circle cx="314.6" cy="456.1" r="2.75" fill="#31281a"/>
<circle cx="311.0" cy="423.7" r="2.75" fill="#31281a"/>
<circle cx="321.9" cy="459.0" r="2.75" fill="#31281a"/>
<circle cx="316.2" cy="419.4" r="2.75" fill="#31281a"/>
<circle cx="57.3" cy="250.0" r="2.75" fill="#31281a"/>
<circle cx="70.2" cy="249.0" r="2.75" fill="#31281a"/>
<circle cx="52.0" cy="255.0" r="2.75" fill="#31281a"/>
<circle cx="76.4" cy="252.7" r="2.75" fill="#31281a"/>
<circle cx="47.3" cy="261.0" r="2.75" fill="#31281a"/>
<circle cx="82.4" cy="256.8" r="2.75" fill="#31281a"/>
<circle cx="44.3" cy="267.8" r="2.75" fill="#31281a"/>
<circle cx="87.1" cy="261.6" r="2.75" fill="#31281a"/>
<g transform="translate(289.5,232) scale(1.084,1)"><path id="rp" d="M 205.5,0 A 205.5,205.5 0 1 1 -205.5,0 A 205.5,205.5 0 1 1 205.5,0" fill="none"/><text font-family="Liberation Sans" font-weight="bold" font-size="17.2" fill="#2f2a22" stroke="#2f2a22" stroke-width="1.3" stroke-linejoin="round" text-anchor="middle"><textPath href="#rp" startOffset="739.9" textLength="119.1" lengthAdjust="spacingAndGlyphs">EXPRESSIONS</textPath></text><text font-family="Liberation Sans" font-weight="bold" font-size="17.2" fill="#2f2a22" stroke="#2f2a22" stroke-width="1.3" stroke-linejoin="round" text-anchor="middle"><textPath href="#rp" startOffset="1163.2" textLength="114.8" lengthAdjust="spacingAndGlyphs">EXPERIENCES</textPath></text><text font-family="Liberation Sans" font-weight="bold" font-size="17.2" fill="#2f2a22" stroke="#2f2a22" stroke-width="1.3" stroke-linejoin="round" text-anchor="middle"><textPath href="#rp" startOffset="96.5" textLength="119.1" lengthAdjust="spacingAndGlyphs">EXPRESSIONS</textPath></text><text font-family="Liberation Sans" font-weight="bold" font-size="17.2" fill="#2f2a22" stroke="#2f2a22" stroke-width="1.3" stroke-linejoin="round" text-anchor="middle"><textPath href="#rp" startOffset="504.3" textLength="114.8" lengthAdjust="spacingAndGlyphs">EXPERIENCES</textPath></text></g>
<g opacity="0.995" font-family="Liberation Sans" font-weight="bold" font-size="11.4" fill="#3e3018"><text x="202.8" y="133.6" textLength="70.9" lengthAdjust="spacingAndGlyphs">Connection to</text><text x="197.0" y="147.4" textLength="83.4" lengthAdjust="spacingAndGlyphs">spirit, spirituality</text><text x="202.0" y="160.8" textLength="74.2" lengthAdjust="spacingAndGlyphs">and ancestors</text><text x="309.9" y="140.6" textLength="58.5" lengthAdjust="spacingAndGlyphs">Connection</text><text x="320.1" y="153.3" textLength="39.0" lengthAdjust="spacingAndGlyphs">to body</text><text x="360.2" y="208.0" textLength="59.5" lengthAdjust="spacingAndGlyphs">Connection</text><text x="358.8" y="221.5" textLength="61.6" lengthAdjust="spacingAndGlyphs">to mind and</text><text x="366.1" y="234.6" textLength="48.3" lengthAdjust="spacingAndGlyphs">emotions</text><text x="160.2" y="212.6" textLength="59.5" lengthAdjust="spacingAndGlyphs">Connection</text><text x="164.8" y="225.4" textLength="51.6" lengthAdjust="spacingAndGlyphs">to country</text><text x="176.2" y="285.6" textLength="58.5" lengthAdjust="spacingAndGlyphs">Connection</text><text x="181.5" y="298.6" textLength="48.6" lengthAdjust="spacingAndGlyphs">to culture</text><text x="263.7" y="326.0" textLength="57.9" lengthAdjust="spacingAndGlyphs">Connection</text><text x="257.7" y="338.7" textLength="70.6" lengthAdjust="spacingAndGlyphs">to community</text><text x="344.5" y="281.8" textLength="57.9" lengthAdjust="spacingAndGlyphs">Connection</text><text x="339.2" y="294.2" textLength="67.6" lengthAdjust="spacingAndGlyphs">to family and</text><text x="354.9" y="306.2" textLength="37.0" lengthAdjust="spacingAndGlyphs">kinship</text></g>
<text x="269.5" y="239.8" font-family="Liberation Sans" font-weight="bold" font-size="18.5" fill="#ffffff">Self</text><ellipse cx="307" cy="229.6" rx="2.8" ry="2.4" fill="#fffbe8"/>
</svg>
</body></html>
